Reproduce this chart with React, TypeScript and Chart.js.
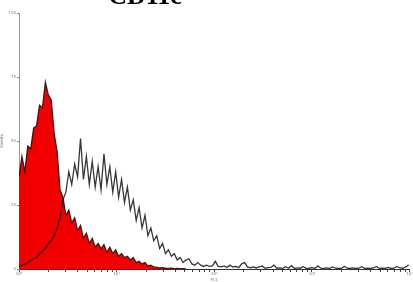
import React, { useEffect, useRef } from "react";
import { Chart, registerables } from "chart.js";

Chart.register(...registerables);

// Histogram bins on a log axis: each bin is BIN_WIDTH decades wide, starting at 10^0
const BIN_WIDTH = 0.03;
const DECADES = [0, 1, 2, 3, 4];
const MINOR_FACTORS = [2, 3, 4, 5, 6, 7, 8, 9];
const Y_TICKS = [0, 25, 50, 75, 100];

// Control (red filled)
const RED_COUNTS = [
  36, 44, 38, 48, 47, 55, 56, 64, 63, 73, 68, 66, 53, 46, 31, 28, 21, 23, 18, 20,
  15, 17, 12, 14, 10, 12, 8.5, 10, 8, 9.5, 6.5, 8.5, 6, 7.5, 5, 6, 4.5, 5, 3.5, 4.5,
  2.5, 3, 2, 2.5, 1.2, 1.5, 0.8, 0.6, 0.4, 0.5, 0.3, 0.2, 0.3, 0.1, 0.2, 0.1, 0.1, 0,
];

// CD11c stained (black outline)
const BLACK_COUNTS = [
  1, 1.5, 2, 2.5, 3.5, 4, 4.5, 6, 7, 8, 10, 11, 13, 16, 20, 27, 30, 38, 33, 41,
  36, 51, 35, 44, 33, 42, 32, 40, 31, 45, 33, 40, 30, 38, 28, 35, 26, 32, 23, 27,
  19, 24, 16, 21, 13, 16, 11, 13, 8, 10, 6, 7.5, 5, 6, 3.5, 4.5, 2.5, 3.5, 4, 2,
  1.5, 2.5, 1.5, 1, 1.5, 1, 1.2, 3, 1, 0.8, 1.2, 0.6, 1.5, 0.8, 1, 0.5, 2, 2.5, 0.7, 0.5,
  0.8, 0.4, 0.8, 1.2, 0.3, 0.5, 0.6, 1.5, 0.3, 0.4, 0.2, 0.9, 0.3, 1.3, 0.2, 0.4, 0.3, 1.0, 0.2, 0.3,
  0.5, 0.2, 1.2, 0.3, 0.2, 0.4, 0.2, 0.8, 0.3, 0.2, 0.2, 1.1, 0.3, 0.2, 0.4, 0.2, 0.3, 0.9, 0.2, 0.3,
  0.2, 0.4, 1.0, 0.2, 0.3, 0.2, 0.6, 0.2, 0.3, 1.0, 0.4, 0.3, 0.8, 1.6,
];

const SUPERSCRIPTS = ["⁰", "¹", "²", "³", "⁴"];

function toPoints(counts: number[]) {
  return counts.map((c, i) => ({ x: i * BIN_WIDTH, y: c }));
}

export default function App() {
  const canvasRef = useRef<HTMLCanvasElement | null>(null);

  useEffect(() => {
    document.body.style.margin = "0";
    const canvas = canvasRef.current;
    if (!canvas) return;
    const chart = new Chart(canvas, {
      type: "line",
      data: {
        datasets: [
          {
            label: "CD11c",
            data: toPoints(BLACK_COUNTS),
            borderColor: "rgba(20,20,20,0.85)",
            borderWidth: 1.3,
            pointRadius: 0,
            fill: false,
            tension: 0,
          },
          {
            label: "Control",
            data: toPoints(RED_COUNTS),
            borderColor: "rgba(50,10,10,0.9)",
            borderWidth: 1.3,
            backgroundColor: "#f20000",
            pointRadius: 0,
            fill: "origin",
            tension: 0,
          },
        ],
      },
      options: {
        responsive: false,
        animation: false,
        layout: { padding: { top: 13, right: 2, left: 0, bottom: 0 } },
        plugins: {
          legend: { display: false },
          tooltip: { enabled: false },
          title: { display: false },
        },
        scales: {
          x: {
            type: "linear",
            min: 0,
            max: 4,
            afterBuildTicks: (scale: any) => {
              const ticks: { value: number }[] = [];
              DECADES.forEach((d) => {
                ticks.push({ value: d });
                if (d < 4) MINOR_FACTORS.forEach((f) => ticks.push({ value: d + Math.log10(f) }));
              });
              scale.ticks = ticks;
            },
            afterFit: (scale: any) => {
              scale.height = 13;
            },
            ticks: {
              autoSkip: false,
              maxRotation: 0,
              padding: 0,
              font: { size: 4, family: "DejaVu Sans" },
              color: "#777",
              callback: (v: any) => {
                const n = Number(v);
                const i = DECADES.indexOf(Math.round(n * 1000) / 1000);
                return i >= 0 ? "10" + SUPERSCRIPTS[i] : "";
              },
            },
            grid: { display: true, drawOnChartArea: false, drawTicks: true, tickLength: 3, color: "#444" },
            border: { display: true, color: "#333", width: 1 },
            title: { display: true, text: "FL1", font: { size: 4, family: "DejaVu Sans" }, color: "#777", padding: 0 },
          },
          y: {
            min: 0,
            max: 100,
            afterBuildTicks: (scale: any) => {
              scale.ticks = Y_TICKS.map((v) => ({ value: v }));
            },
            afterFit: (scale: any) => {
              scale.width = 19;
            },
            ticks: {
              padding: 1,
              font: { size: 4, family: "DejaVu Sans" },
              color: "#888",
              callback: (v: any) => String(v),
            },
            grid: { display: true, drawOnChartArea: false, drawTicks: true, tickLength: 2, color: "#888" },
            border: { display: true, color: "#999", width: 1 },
            title: { display: true, text: "Events", font: { size: 4, family: "DejaVu Sans" }, color: "#666", padding: 0 },
          },
        },
      },
    });
    return () => chart.destroy();
  }, []);

  return (
    <div style={{ position: "relative", width: 413, height: 282, overflow: "hidden", background: "#fff" }}>
      <div
        style={{
          position: "absolute",
          left: 0,
          width: 290,
          top: -17,
          textAlign: "center",
          fontFamily: "'Liberation Serif', serif",
          fontWeight: "bold",
          fontSize: 26,
          lineHeight: "26px",
          color: "#000",
        }}
      >
        CD11c
      </div>
      <canvas ref={canvasRef} width={413} height={282} style={{ display: "block" }} />
    </div>
  );
}
